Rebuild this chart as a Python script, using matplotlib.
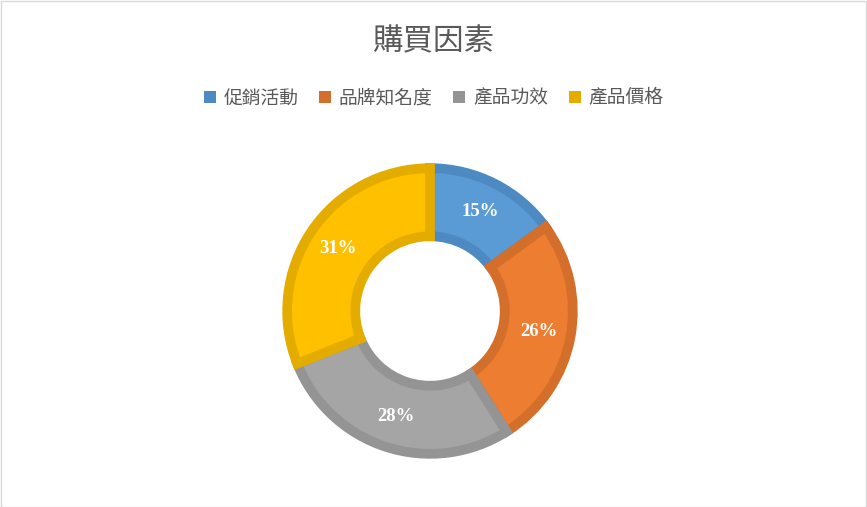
import matplotlib
matplotlib.use('Agg')
import matplotlib.pyplot as plt
from matplotlib.patches import Patch, Rectangle

plt.rcParams['font.family'] = ['Noto Sans CJK TC', 'DejaVu Sans']

title = '購買因素'
labels = ['促銷活動', '品牌知名度', '產品功效', '產品價格']
values = [15, 26, 28, 31]
fills = ['#5B9BD5', '#ED7D31', '#A5A5A5', '#FFC000']
edges = ['#4E8AC2', '#D46E2B', '#949494', '#E5AC00']


def main():
    fig = plt.figure(figsize=(8.67, 5.07), dpi=100)
    W, H = 867, 507
    cx, cy, r = 430, 311, 148
    ax = fig.add_axes([(cx - r) / W, (H - cy - r) / H, 2 * r / W, 2 * r / H])

    wedges, texts, autotexts = ax.pie(
        values, colors=fills, startangle=90, counterclock=False,
        radius=0.965, wedgeprops=dict(width=0.46),
        autopct='%d%%', pctdistance=0.78,
        textprops=dict(color='white', fontfamily='Liberation Serif',
                       fontweight='bold', fontsize=13.5))
    for w, ec in zip(wedges, edges):
        w.set_edgecolor(ec)
        w.set_linewidth(7)
        w.set_clip_path(w)
    ax.set_xlim(-1, 1)
    ax.set_ylim(-1, 1)
    ax.set_aspect('equal')
    ax.axis('off')

    fig.text(0.5, 1 - 42 / H, title, ha='center', va='center',
             fontsize=22, color='#595959')

    handles = [Patch(facecolor=c, edgecolor='none') for c in edges]
    leg = fig.legend(handles, labels, loc='center', bbox_to_anchor=(0.5, 1 - 98 / H),
                     ncol=4, frameon=False, fontsize=13.5, handlelength=0.65,
                     handleheight=0.65, handletextpad=0.4, columnspacing=1.1)
    for t in leg.get_texts():
        t.set_color('#595959')

    fig.patches.append(Rectangle((0.5 / W, 0.5 / H), 1 - 1.5 / W, 1 - 1.5 / H,
                                 transform=fig.transFigure, fill=False,
                                 edgecolor='#D9D9D9', linewidth=1))
    fig.savefig('out.png', dpi=100)


if __name__ == '__main__':
    main()
